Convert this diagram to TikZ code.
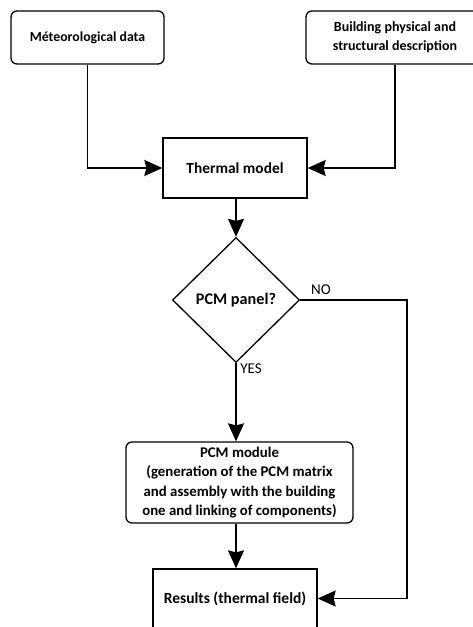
\documentclass[tikz,border=0pt]{standalone}
\usepackage{fontspec}
\setmainfont{Carlito}
\usetikzlibrary{shapes.geometric,arrows.meta}

\begin{document}
\begin{tikzpicture}[
  x=1pt,y=-1pt,
  font=\fontsize{15}{19.3}\selectfont,
  block/.style={
    draw,
    line width=1.3pt,
    align=center,
    font=\fontsize{15}{19.3}\selectfont\bfseries
  },
  text size/.style={
    font=\fontsize{#1}{19.3}\selectfont\bfseries
  },
  round block/.style={
    block,
    rounded corners=6pt
  },
  decision/.style={
    block,
    diamond,
    inner sep=0pt,
    minimum width=127pt,
    minimum height=125pt
  },
  flow/.style={
    draw,
    line width=1.3pt,
    -{Stealth[length=18pt,width=16pt,inset=2pt]}
  },
]
\useasboundingbox (0,0) rectangle (473,627);
\clip (0,0) rectangle (473,627);
\node[round block, text size=13.8, minimum width=153pt, minimum height=53pt] (meteo) at (87.5,37.5) {Méteorological data};
\node[round block, text size=14, minimum width=178pt, minimum height=53pt] (building) at (395,37.5) {Building physical and\\structural description};
\node[block, text size=15.4, minimum width=144pt, minimum height=60pt] (thermal) at (235,168) {Thermal model};
\node[decision, text size=16.2] (panel) at (236,300) {PCM panel?};
\node[round block, text size=14.8, minimum width=227pt, minimum height=81pt] (module) at (239.5,482.5)
  {PCM module\\(generation of the PCM matrix\\and assembly with the building\\one and linking of components)};
\node[block, text size=15.5, minimum width=164pt, minimum height=59pt] (results) at (235,598.5) {Results (thermal field)};
\coordinate (turn) at (407,300);

\path[flow] (meteo.south) |- (thermal.west);
\path[flow] (building.south) |- (thermal.east);
\path[flow] (thermal.south -| panel.north) -- (panel.north);
\path[flow] (panel.south) -- (panel.south |- module.north);
\path[flow] (module.south -| panel.south) -- (results.north -| panel.south);
\path[flow] (panel.east) -- (turn) |- (results.east);

\node (no) at (321,290) {NO};
\node (yes) at (251,369) {YES};
\end{tikzpicture}
\end{document}
